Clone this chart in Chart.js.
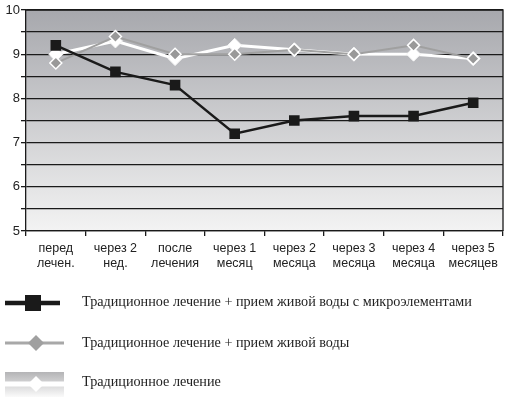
<!DOCTYPE html>
<html>
<head>
<meta charset="utf-8">
<script src="https://cdn.jsdelivr.net/npm/chart.js@4/dist/chart.umd.min.js"></script>
<style>
html,body{margin:0;padding:0;background:#fff;}
#wrap{width:511px;height:399px;position:relative;}
</style>
</head>
<body>
<div id="wrap"><canvas id="c" width="511" height="399"></canvas></div>
<script>
const categories = [
  ["перед","лечен."],
  ["через 2","нед."],
  ["после","лечения"],
  ["через 1","месяц"],
  ["через 2","месяца"],
  ["через 3","месяца"],
  ["через 4","месяца"],
  ["через 5","месяцев"]
];
const seriesNames = [
  "Традиционное лечение + прием живой воды с микроэлементами",
  "Традиционное лечение + прием живой воды",
  "Традиционное лечение"
];
const microValues = [9.2, 8.6, 8.3, 7.2, 7.5, 7.6, 7.6, 7.9];
const waterValues = [8.8, 9.4, 9.0, 9.0, 9.1, 9.0, 9.2, 8.9];
const tradValues  = [9.0, 9.3, 8.9, 9.2, 9.1, 9.0, 9.0, 8.9];
const yMin = 5, yMax = 10, yStep = 0.5;

const bgPlugin = {
  id: 'bg',
  beforeDraw(chart) {
    const {ctx, chartArea: a} = chart;
    const g = ctx.createLinearGradient(0, a.top, 0, a.bottom);
    g.addColorStop(0, '#a7a8ad');
    g.addColorStop(1, '#f3f3f3');
    ctx.save();
    ctx.fillStyle = g;
    ctx.fillRect(a.left, a.top, a.right - a.left, a.bottom - a.top);
    ctx.restore();
  },
  afterDatasetsDraw(chart) {
    const {ctx, chartArea: a} = chart;
    ctx.save();
    ctx.strokeStyle = '#1a1a1a';
    ctx.lineWidth = 1.3;
    ctx.beginPath();
    ctx.moveTo(a.left, a.top);
    ctx.lineTo(a.right, a.top);
    ctx.lineTo(a.right, a.bottom);
    ctx.stroke();
    ctx.restore();
  }
};

const legendPlugin = {
  id: 'customLegend',
  afterDraw(chart) {
    const ctx = chart.ctx;
    ctx.save();
    // row 1
    ctx.strokeStyle = '#1a1a1a';
    ctx.lineWidth = 4.5;
    ctx.beginPath(); ctx.moveTo(5, 303); ctx.lineTo(60, 303); ctx.stroke();
    ctx.fillStyle = '#1a1a1a';
    ctx.fillRect(25, 295, 16, 16);
    // row 2
    ctx.strokeStyle = '#a8a8a8';
    ctx.lineWidth = 3;
    ctx.beginPath(); ctx.moveTo(5, 343); ctx.lineTo(64, 343); ctx.stroke();
    ctx.fillStyle = '#a0a0a0';
    ctx.beginPath(); ctx.moveTo(36, 335); ctx.lineTo(44, 343); ctx.lineTo(36, 351); ctx.lineTo(28, 343); ctx.closePath(); ctx.fill();
    // row 3
    const g = ctx.createLinearGradient(0, 372, 0, 397);
    g.addColorStop(0, '#b4b4b6');
    g.addColorStop(1, '#fafafa');
    ctx.fillStyle = g;
    ctx.fillRect(5, 372, 59, 25);
    ctx.strokeStyle = '#ffffff';
    ctx.lineWidth = 5;
    ctx.beginPath(); ctx.moveTo(5, 384); ctx.lineTo(64, 384); ctx.stroke();
    ctx.fillStyle = '#ffffff';
    ctx.beginPath(); ctx.moveTo(36, 376); ctx.lineTo(44, 384); ctx.lineTo(36, 392); ctx.lineTo(28, 384); ctx.closePath(); ctx.fill();
    // texts
    ctx.fillStyle = '#222';
    ctx.font = '14.2px "Liberation Serif", serif';
    ctx.textBaseline = 'middle';
    ctx.fillText(seriesNames[0], 82, 302);
    ctx.fillText(seriesNames[1], 82, 343);
    ctx.fillText(seriesNames[2], 82, 382);
    ctx.restore();
  }
};

new Chart(document.getElementById('c'), {
  type: 'line',
  data: {
    labels: categories,
    datasets: [
      {
        label: seriesNames[0],
        data: microValues,
        borderColor: '#1a1a1a',
        borderWidth: 2.5,
        pointStyle: 'rect',
        pointRadius: 7.5,
        pointBackgroundColor: '#1a1a1a',
        pointBorderColor: '#1a1a1a',
        pointBorderWidth: 0,
        tension: 0
      },
      {
        label: seriesNames[1],
        data: waterValues,
        borderColor: '#a0a0a0',
        borderWidth: 2,
        pointStyle: 'rectRot',
        pointRadius: 6,
        pointBackgroundColor: '#999999',
        pointBorderColor: '#ffffff',
        pointBorderWidth: 1.5,
        tension: 0
      },
      {
        label: seriesNames[2],
        data: tradValues,
        borderColor: '#ffffff',
        borderWidth: 3,
        pointStyle: 'rectRot',
        pointRadius: 7,
        pointBackgroundColor: '#ffffff',
        pointBorderColor: '#f4f4f4',
        pointBorderWidth: 1,
        tension: 0
      }
    ]
  },
  options: {
    responsive: false,
    animation: false,
    events: [],
    layout: { padding: { top: 10, right: 7, left: 0, bottom: 0 } },
    plugins: { legend: { display: false }, tooltip: { enabled: false } },
    scales: {
      x: {
        offset: true,
        afterFit(s) { s.height = 168; },
        grid: { offset: true, drawOnChartArea: false, drawTicks: true, tickLength: 5, color: '#1a1a1a', lineWidth: 1.3 },
        border: { display: true, color: '#1a1a1a', width: 1.3 },
        ticks: { color: '#222', font: { family: '"Liberation Sans", Arial, sans-serif', size: 12.5 }, padding: 5, maxRotation: 0, autoSkip: false }
      },
      y: {
        min: yMin, max: yMax,
        afterFit(s) { s.width = 26; },
        grid: { color: '#1a1a1a', lineWidth: 1.3, drawTicks: true, tickLength: 5 },
        border: { display: true, color: '#1a1a1a', width: 1.3 },
        ticks: {
          stepSize: yStep,
          padding: 1,
          color: '#222',
          font: { family: '"Liberation Sans", Arial, sans-serif', size: 13 },
          callback: v => Number.isInteger(v) ? String(v) : ''
        }
      }
    }
  },
  plugins: [bgPlugin, legendPlugin]
});
</script>
</body>
</html>
